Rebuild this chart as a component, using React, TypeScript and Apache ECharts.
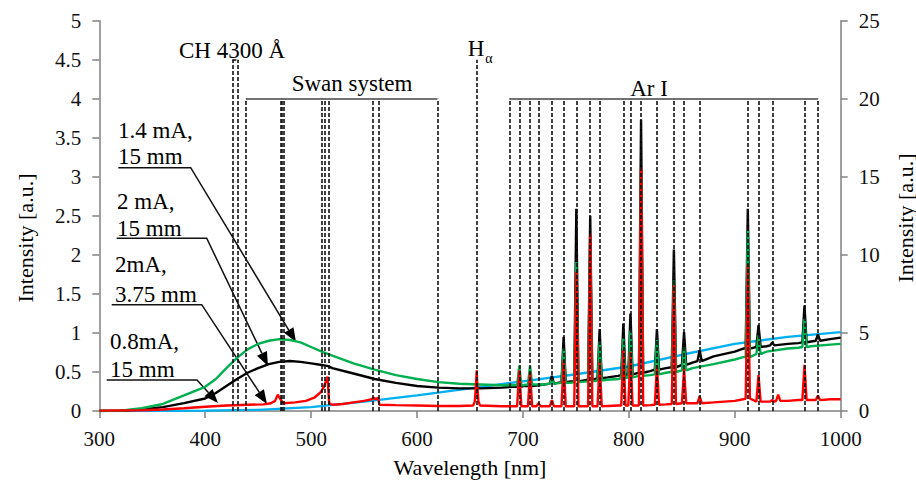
import React, { useEffect, useRef } from "react";
import * as echarts from "echarts";

// ---- axis ticks ----
const xMin = 300, xMax = 1000, xStep = 100;
const yLeftMax = 5, yLeftStep = 0.5;
const yRightMax = 25, yRightStep = 5;

// ---- spectral line positions (nm) ----
const chLines = [425.7, 430.3];
const swanLines = [438.5, 471.5, 472.6, 473.7, 509.8, 512.9, 516.5, 558.5, 563.5, 619.1];
const hAlpha = 656.3;
const arLines = [687.1, 696.5, 706.7, 714.7, 727.3, 738.4, 750.4, 763.5, 772.4, 794.8, 801.5, 811.5, 826.5, 842.5, 852.1, 866.8, 912.3, 922.4, 935.4, 965.8, 978.5];

// ---- continuum (wavelength, intensity) ----
const blackCont = [[300,0],[320,0.005],[340,0.02],[360,0.05],[380,0.1],[400,0.16],[410,0.23],[420,0.32],[430,0.41],[440,0.49],[450,0.55],[460,0.6],[470,0.63],[480,0.64],[490,0.63],[500,0.61],[510,0.59],[516,0.575],[520,0.55],[540,0.48],[560,0.41],[580,0.36],[600,0.32],[620,0.3],[640,0.29],[660,0.29],[680,0.3],[690,0.31],[700,0.32],[720,0.34],[745,0.38],[780,0.43],[790,0.45],[820,0.51],[835,0.55],[860,0.62],[880,0.7],[900,0.76],[908,0.8],[930,0.83],[950,0.86],[960,0.87],[972,0.89],[990,0.92],[1000,0.94]];
const greenCont = [[300,0],[320,0.005],[340,0.035],[360,0.09],[380,0.2],[400,0.31],[410,0.41],[420,0.55],[430,0.68],[440,0.79],[450,0.86],[460,0.9],[470,0.92],[480,0.91],[490,0.88],[500,0.82],[510,0.76],[520,0.71],[540,0.61],[560,0.53],[580,0.46],[600,0.41],[620,0.37],[640,0.35],[660,0.34],[680,0.33],[690,0.33],[700,0.33],[720,0.34],[745,0.36],[780,0.4],[790,0.41],[820,0.46],[835,0.49],[860,0.55],[880,0.6],[900,0.66],[908,0.69],[930,0.76],[950,0.8],[960,0.81],[972,0.83],[990,0.85],[1000,0.86]];
const blueCont = [[300,0],[350,0],[400,0.005],[450,0.015],[500,0.05],[550,0.12],[600,0.2],[650,0.29],[700,0.38],[750,0.47],[800,0.57],[850,0.72],[900,0.86],[950,0.95],[1000,1.01]];
const redCont = [[300,0.005],[340,0.01],[360,0.02],[380,0.035],[400,0.055],[420,0.07],[440,0.08],[455,0.085],[462,0.1],[466,0.13],[468.5,0.21],[470.5,0.16],[474,0.1],[485,0.11],[495,0.13],[503,0.17],[509,0.24],[512,0.31],[515.5,0.44],[517,0.1],[520,0.08],[530,0.09],[540,0.11],[550,0.13],[557,0.15],[559,0.17],[561,0.15],[563.3,0.17],[564.5,0.08],[580,0.075],[600,0.07],[620,0.065],[640,0.065],[653,0.07],[654.5,0.12],[655.5,0.3],[656.3,0.52],[657,0.3],[658,0.12],[659.5,0.07],[680,0.06],[690,0.06],[700,0.06],[720,0.06],[745,0.06],[780,0.065],[790,0.07],[820,0.075],[835,0.085],[860,0.1],[880,0.11],[900,0.13],[908,0.15],[930,0.12],[939,0.13],[941,0.21],[943,0.13],[950,0.13],[960,0.14],[972,0.14],[990,0.15],[1000,0.15]];

// ---- Ar I peak tops and bases, aligned with arLines ----
const blackPeaks = [null, 0.42, 0.42, null, 0.45, 0.95, 2.59, 2.5, 1.05, 1.12, 1.25, 3.73, 1.05, 2.07, 1.01, 0.78, 2.59, 1.1, 0.88, 1.35, 0.98];
const blackBase = [0.3, 0.31, 0.32, 0.33, 0.35, 0.37, 0.38, 0.4, 0.42, 0.46, 0.47, 0.49, 0.53, 0.56, 0.59, 0.64, 0.8, 0.82, 0.84, 0.88, 0.9];
const greenPeaks = [null, 0.58, 0.58, null, 0.4, 0.8, 1.91, 2.1, 0.89, 0.93, 1.03, 3.0, 0.91, 1.67, 0.82, null, 2.31, 0.97, null, 1.18, null];
const greenBase = [0.33, 0.33, 0.34, 0.34, 0.35, 0.36, 0.37, 0.38, 0.39, 0.42, 0.43, 0.45, 0.47, 0.5, 0.52, 0.56, 0.69, 0.73, 0.77, 0.82, 0.84];
const redPeaks = [null, 0.52, 0.5, 0.1, 0.14, 0.65, 1.78, 2.27, 0.63, 0.78, 0.76, 3.12, 0.59, 1.61, 0.54, 0.19, 1.88, 0.46, 0.14, 0.59, 0.2];
const redBase = [0.06, 0.06, 0.06, 0.06, 0.06, 0.06, 0.06, 0.06, 0.06, 0.07, 0.07, 0.07, 0.08, 0.09, 0.1, 0.1, 0.16, 0.12, 0.12, 0.14, 0.14];

const PEAK_HALF = 2.0;
const SERIF = "Liberation Serif, serif";

function build(cont: number[][], peaks: (number | null)[], bases: number[]) {
  const pts: number[][] = cont.map((p) => [p[0], p[1]]);
  arLines.forEach((c, i) => {
    const t = peaks[i];
    if (t == null) return;
    pts.push([c - PEAK_HALF, bases[i]], [c, t], [c + PEAK_HALF, bases[i]]);
  });
  pts.sort((a, b) => a[0] - b[0]);
  return pts;
}

function arrow(points: number[][]) {
  const n = points.length;
  const [tx, ty] = points[n - 1];
  const [px, py] = points[n - 2];
  const dx = tx - px, dy = ty - py;
  const len = Math.hypot(dx, dy);
  const ux = dx / len, uy = dy / len;
  const L = 14, W = 5.5;
  const bx = tx - ux * L, by = ty - uy * L;
  const shortened = points.slice(0, n - 1).concat([[bx, by]]);
  return [
    { type: "polyline", shape: { points: shortened }, style: { stroke: "#111", lineWidth: 1.5, fill: null } },
    { type: "polygon", shape: { points: [[tx, ty], [bx - uy * W, by + ux * W], [bx + uy * W, by - ux * W]] }, style: { fill: "#000" } },
  ];
}

function txt(text: string, x: number, y: number, size = 23, align = "left", extra: any = {}) {
  return {
    type: "text",
    x, y,
    ...extra,
    style: { text, fontSize: size, fontFamily: SERIF, fill: "#000", align, verticalAlign: "middle" },
  };
}

export default function App() {
  const ref = useRef<HTMLDivElement>(null);
  useEffect(() => {
    if (!ref.current) return;
    const chart = echarts.init(ref.current, undefined, { renderer: "svg" });

    const dashStyle = { type: [4, 2], color: "#111", width: 1.6 };
    const solidStyle = { type: "solid", color: "#444", width: 1.5 };
    const vline = (x: number, top: number) => [{ coord: [x, 0] }, { coord: [x, top] }];
    const markData: any[] = [];
    chLines.forEach((x) => markData.push(vline(x, 4.5)));
    markData.push([{ coord: [chLines[0], 4.5] }, { coord: [chLines[1], 4.5] }]);
    swanLines.forEach((x) => markData.push(vline(x, 4)));
    markData.push(vline(hAlpha, 4.5));
    arLines.forEach((x) => markData.push(vline(x, 4)));
    markData.push([{ coord: [swanLines[0], 4], lineStyle: solidStyle }, { coord: [swanLines[swanLines.length - 1], 4] }]);
    markData.push([{ coord: [arLines[0], 4], lineStyle: solidStyle }, { coord: [arLines[arLines.length - 1], 4] }]);

    const axisLine = { show: true, lineStyle: { color: "#808080", width: 1.5 } };
    const axisTick = { show: true, length: 7, lineStyle: { color: "#808080", width: 1.5 } };
    const label = { fontSize: 21, fontFamily: SERIF, color: "#111" };

    const lineSeries = (name: string, data: number[][], color: string, extra: any = {}) => ({
      name, type: "line", data, showSymbol: false, symbol: "none", xAxisIndex: 0, yAxisIndex: 0,
      lineStyle: { color, width: 2.4 }, itemStyle: { color }, silent: true, ...extra,
    });

    chart.setOption({
      animation: false,
      backgroundColor: "#fff",
      textStyle: { fontFamily: SERIF },
      grid: { left: 99.3, right: 75.3, top: 20.7, bottom: 70.3, containLabel: false },
      xAxis: {
        type: "value", min: xMin, max: xMax, interval: xStep,
        axisLine, axisTick: { ...axisTick, inside: false }, splitLine: { show: false },
        axisLabel: { ...label, margin: 17, formatter: (v: number) => String(v) },
        name: "Wavelength [nm]", nameLocation: "middle", nameGap: 45,
        nameTextStyle: { fontSize: 22, fontFamily: SERIF, color: "#000" },
      },
      yAxis: [
        {
          type: "value", min: 0, max: yLeftMax, interval: yLeftStep, position: "left",
          axisLine, axisTick, splitLine: { show: false }, axisLabel: { ...label, margin: 18 },
        },
        {
          type: "value", min: 0, max: yRightMax, interval: yRightStep, position: "right",
          axisLine, axisTick, splitLine: { show: false }, axisLabel: { ...label, margin: 18 },
        },
      ],
      series: [
        lineSeries("blue", blueCont, "#00b0f0", {
          markLine: { symbol: "none", silent: true, label: { show: false }, lineStyle: dashStyle, data: markData },
        }),
        lineSeries("2 mA, 15 mm", build(blackCont, blackPeaks, blackBase), "#000000"),
        lineSeries("1.4 mA, 15 mm", build(greenCont, greenPeaks, greenBase), "#00b050"),
        lineSeries("2mA, 3.75 mm", build(redCont, redPeaks, redBase), "#ff0000"),
      ],
      graphic: [
        txt("Intensity [a.u.]", 25, 238, 22, "center", { rotation: Math.PI / 2 }),
        txt("Intensity [a.u.]", 905, 218, 22, "center", { rotation: Math.PI / 2 }),
        txt("CH 4300 Å", 232, 50, 23, "center"),
        txt("Swan system", 352, 83, 23, "center"),
        txt("H", 476, 48, 23, "center"),
        txt("α", 489, 58, 14, "center"),
        txt("Ar I", 649, 88, 23, "center"),
        txt("1.4 mA,", 118, 130),
        txt("15 mm", 118, 156),
        txt("2 mA,", 117, 201),
        txt("15 mm", 117, 228),
        txt("2mA,", 115, 264),
        txt("3.75 mm", 115, 294),
        txt("0.8mA,", 110, 341),
        txt("15 mm", 110, 369),
        ...arrow([[118.3, 167.7], [190.7, 167.7], [296, 342]]),
        ...arrow([[116.7, 238.3], [206.7, 238.3], [268, 366]]),
        ...arrow([[111.7, 304.7], [201.7, 304.7], [267, 404]]),
        ...arrow([[106.7, 380], [197, 380], [218, 403]]),
      ],
    });
    return () => chart.dispose();
  }, []);
  return <div ref={ref} style={{ position: "absolute", left: 0, top: 0, width: 916, height: 483 }} />;
}
